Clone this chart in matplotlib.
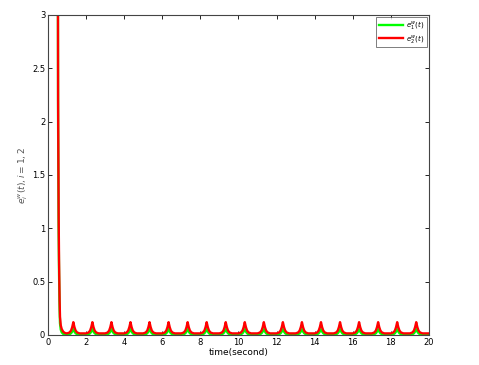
import numpy as np
import matplotlib
matplotlib.use("Agg")
import matplotlib.pyplot as plt

# initial transient
t_init = [0.50, 0.53, 0.56, 0.58, 0.61, 0.63, 0.67, 0.72, 0.80, 0.90, 1.00]
red_init = [6.0, 2.2, 1.1, 0.70, 0.32, 0.17, 0.09, 0.056, 0.030, 0.018, 0.015]
green_init = [6.0, 2.0, 0.95, 0.58, 0.24, 0.11, 0.05, 0.025, 0.010, 0.005, 0.003]

# periodic spikes
peak_times = [1.33, 2.33, 3.33, 4.33, 5.33, 6.33, 7.33, 8.33, 9.33, 10.33,
              11.33, 12.33, 13.33, 14.33, 15.33, 16.33, 17.33, 18.33, 19.33]
red_peaks = [0.12] * 19
green_peaks = [0.055] * 19
red_base = 0.015
green_base = 0.003
# spike shape: offsets in time and fraction of peak height above baseline
shape_dt = [-0.33, -0.20, -0.12, -0.06, 0.0, 0.06, 0.12, 0.20, 0.33, 0.50]
shape_frac = [0.0, 0.08, 0.25, 0.55, 1.0, 0.55, 0.25, 0.08, 0.0, 0.0]

def build(t0, v0, peaks, base):
    t = list(t0)
    v = list(v0)
    for pt, ph in zip(peak_times, peaks):
        for dt, fr in zip(shape_dt, shape_frac):
            tt = pt + dt
            if tt > t[-1] and tt <= 20:
                t.append(tt)
                v.append(base + fr * (ph - base))
    if t[-1] < 20:
        t.append(20.0)
        v.append(base)
    return np.array(t), np.array(v)

tr, vr = build(t_init, red_init, red_peaks, red_base)
tg, vg = build(t_init, green_init, green_peaks, green_base)

fig = plt.figure(figsize=(4.79, 3.65), dpi=100)
ax = fig.add_axes([0.1002, 0.0822, 0.7954, 0.8768])
ax.plot(tg, vg, color=(0, 1, 0), lw=1.7, label=r'$e_1^{w}(t)$')
ax.plot(tr, vr, color=(1, 0, 0), lw=1.7, label=r'$e_2^{w}(t)$')
ax.set_xlim(0, 20)
ax.set_ylim(0, 3)
ax.set_xticks(np.arange(0, 21, 2))
ax.set_yticks([0, 0.5, 1, 1.5, 2, 2.5, 3])
ax.set_yticklabels(['0', '0.5', '1', '1.5', '2', '2.5', '3'])
ax.tick_params(direction='in', top=True, right=True, labelsize=6, length=3,
               width=0.6, pad=2)
for s in ax.spines.values():
    s.set_linewidth(0.8)
    s.set_color('#444444')
ax.set_xlabel('time(second)', fontsize=6.5, labelpad=1)
ax.set_ylabel(r'$e_i^{w}(t), i=1,2$', fontsize=6.5, color='#555555')
ax.yaxis.set_label_coords(-0.046, 0.5)
leg = ax.legend(loc='upper right', fontsize=5, frameon=True, fancybox=False,
                edgecolor='#444444', handlelength=3.5, borderpad=0.3,
                labelspacing=0.2, handletextpad=0.5, borderaxespad=0.3)
leg.get_frame().set_linewidth(0.6)
fig.savefig('out.png', dpi=100)
